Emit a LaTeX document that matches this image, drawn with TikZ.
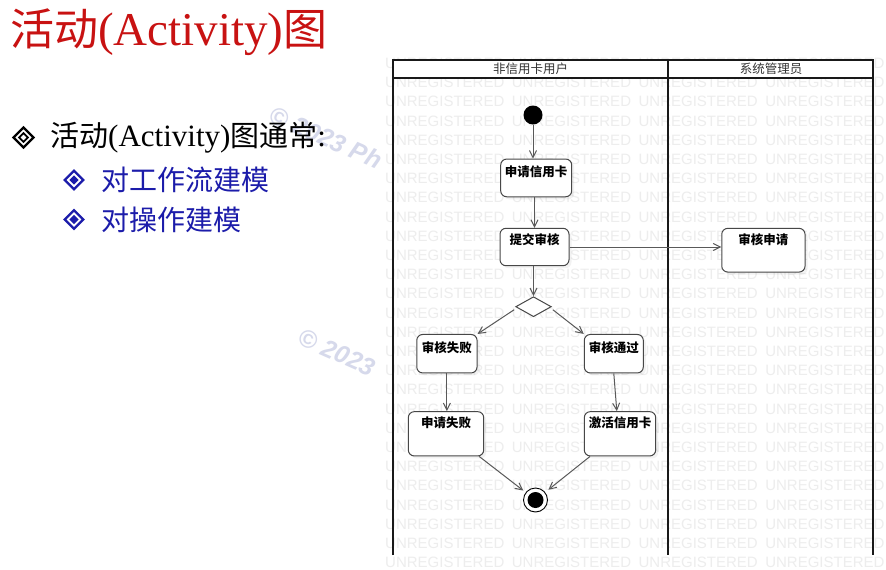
\documentclass[tikz,border=0pt]{standalone}
\usepackage{fontspec}
\setmainfont{Liberation Serif}
\newfontfamily\cjk{Noto Sans CJK SC}
\newfontfamily\wmfont{Liberation Sans}
\usetikzlibrary{arrows.meta,shapes.geometric,shadows}

\definecolor{titlered}{RGB}{200,18,18}
\definecolor{bulletblue}{RGB}{28,28,170}
\definecolor{wmgray}{RGB}{237,237,237}
\definecolor{lilac}{RGB}{214,217,235}

\begin{document}
\begin{tikzpicture}[x=1pt,y=-1pt,
  wm/.style={font=\wmfont\fontsize{15}{15}\selectfont, text=wmgray, inner sep=0, anchor=west},
  copymark/.style={font=\wmfont\bfseries\itshape\fontsize{25}{25}\selectfont, text=lilac, inner sep=0, anchor=west, rotate=-24},
  lane/.style={line width=1.9pt, draw=black!90},
  lanehead/.style={font=\cjk\fontsize{12.5}{14}\selectfont, text=black!80, inner sep=0},
  actbox/.style={draw=black!72, line width=1pt, rounded corners=6pt, fill=white, inner sep=0,
    drop shadow={shadow xshift=2.5pt, shadow yshift=-2.5pt, opacity=0.10}},
  acttext/.style={font=\cjk\bfseries\fontsize{12.5}{14}\selectfont, inner sep=0},
  flow/.style={draw=black!65, line width=1pt, -{Straight Barb[length=7pt,width=7pt]}},
  bullettext/.style={anchor=west, inner sep=0, text=bulletblue, font=\cjk\fontsize{28}{32}\selectfont}
]
\useasboundingbox (0,0) rectangle (886,570);
\fill[white] (0,0) rectangle (886,570);

% faint copyright marks behind the slide text
\node[copymark] (cr1) at (271,113) {© 2023 Ph};
\node[copymark] (cr2) at (300,336) {© 2023};

% ---------- slide text ----------
\node[anchor=base west, inner sep=0, text=titlered] (title) at (10,45)
  {\cjk\fontsize{44}{50}\selectfont 活动\rmfamily\fontsize{47}{50}\selectfont(Activity)\cjk\fontsize{44}{50}\selectfont 图};

\draw[line width=2.4pt, miter limit=10] (23.5,127.5) -- (33.5,137.5) -- (23.5,147.5) -- (13.5,137.5) -- cycle;
\draw[line width=1.8pt, miter limit=10] (23.5,133.2) -- (27.8,137.5) -- (23.5,141.8) -- (19.2,137.5) -- cycle;
\node[anchor=base west, inner sep=0] (line1) at (50,146.5)
  {\cjk\fontsize{29}{34}\selectfont 活动\rmfamily\fontsize{31}{34}\selectfont(Activity)\cjk\fontsize{29}{34}\selectfont 图通常\rmfamily\fontsize{31}{34}\selectfont:};

\foreach \yy in {180,219.5}{
  \draw[bulletblue, line width=2.2pt, miter limit=10] (74,\yy-9.3) -- (83.3,\yy) -- (74,\yy+9.3) -- (64.7,\yy) -- cycle;
  \fill[bulletblue] (74,\yy-4.6) -- (78.6,\yy) -- (74,\yy+4.6) -- (69.4,\yy) -- cycle;
}
\node[bullettext] (sub1) at (101.7,180) {对工作流建模};
\node[bullettext] (sub2) at (101.7,219.5) {对操作建模};

% ---------- activity diagram ----------
\fill[white] (383,55) rectangle (886,570);
\begin{scope}
  \clip (383,56) rectangle (886,570);
  \foreach \r in {-2,...,24}
    \foreach \c in {0,...,3}
      \node[wm] at ({385+126.7*\c},{101.7+19.2*\r}) {UNREGISTERED};
\end{scope}

% swimlanes
\fill[white] (393,60) rectangle (873,78);
\draw[line width=1.3pt, black!90] (393,78) -- (873,78);
\draw[lane] (393,555) -- (393,60) -- (873,60) -- (873,555);
\draw[lane] (668,60) -- (668,555);
\node[lanehead] (lane1) at (530.5,68.5) {非信用卡用户};
\node[lanehead] (lane2) at (771,68.5) {系统管理员};

% states
\node[circle, fill=black, minimum size=19, inner sep=0] (start) at (533,115) {};

\node[actbox, minimum width=71, minimum height=37.7] (b1) at (536.2,177.9) {};
\node[actbox, minimum width=69, minimum height=37.4] (b2) at (534.5,247) {};
\node[actbox, minimum width=83.3, minimum height=43.7] (b3) at (763.4,250.2) {};
\node[actbox, minimum width=60.3, minimum height=38.5] (b4) at (446.9,353.7) {};
\node[actbox, minimum width=59, minimum height=38.5] (b5) at (613.8,353.7) {};
\node[actbox, minimum width=75.4, minimum height=44.3] (b6) at (446,433.8) {};
\node[actbox, minimum width=71.4, minimum height=44.3] (b7) at (620,433.8) {};

\node[acttext] (t1) at ([yshift=-12.8pt]b1.north) {申请信用卡};
\node[acttext] (t2) at ([yshift=-12pt]b2.north) {提交审核};
\node[acttext] (t3) at ([yshift=-12pt]b3.north) {审核申请};
\node[acttext] (t4) at ([yshift=-13.5pt]b4.north) {审核失败};
\node[acttext] (t5) at ([yshift=-13.5pt]b5.north) {审核通过};
\node[acttext] (t6) at ([yshift=-11.8pt]b6.north) {申请失败};
\node[acttext] (t7) at ([yshift=-11.8pt]b7.north) {激活信用卡};

\node[diamond, draw=black!72, line width=1pt, fill=white, minimum width=35.6, minimum height=20, inner sep=0] (dec) at (533.5,306.7) {};

\node[circle, draw=black, line width=0.9pt, fill=white, minimum size=24, inner sep=0] (fin) at (535.5,500) {};
\node[circle, fill=black, minimum size=16, inner sep=0] (findot) at (fin) {};

% transitions
\coordinate (decL) at ([xshift=-1pt,yshift=-3pt]dec.west);
\coordinate (decR) at ([xshift=1pt,yshift=-3pt]dec.east);

\draw[flow] (start) -- (start |- b1.north);
\draw[flow] (b2.north |- b1.south) -- (b2.north);
\draw[flow] (b2.east) -- (b2.east -| b3.west);
\draw[flow] (dec.north |- b2.south) -- (dec.north);
\draw[flow] (decL) -- (b4.north east);
\draw[flow] (decR) -- (b5.north west);
\draw[flow] (b4.south) -- (b4.south |- b6.north);
\draw[flow] (b5.south) -- ([xshift=3pt]b5.south |- b7.north);
\draw[flow, shorten >=3pt] ([xshift=-5pt]b6.south east) -- (fin);
\draw[flow, shorten >=4pt] ([xshift=-30pt]b7.south) -- (fin);
\end{tikzpicture}
\end{document}
